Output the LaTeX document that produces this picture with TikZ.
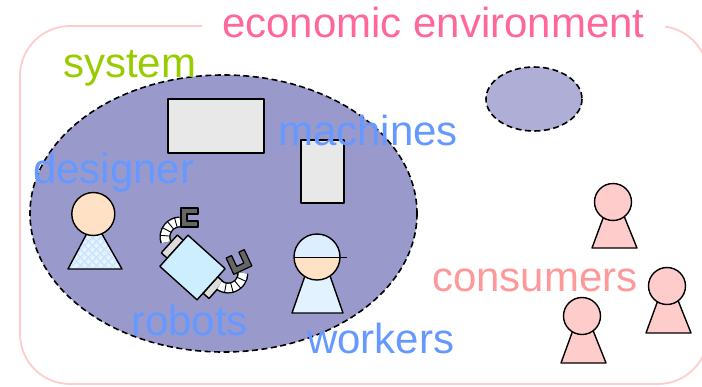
\documentclass[tikz,border=0pt]{standalone}
\usepackage{fontspec}
\setmainfont{Liberation Sans}
\definecolor{framepink}{HTML}{FFCCCC}
\definecolor{econpink}{HTML}{FF6699}
\definecolor{sysgreen}{HTML}{99CC00}
\definecolor{labelblue}{HTML}{6699FF}
\definecolor{conspink}{HTML}{FF9999}
\definecolor{sysfill}{HTML}{9999CC}
\definecolor{otherfill}{HTML}{AEAED6}
\definecolor{machgray}{HTML}{E8E8E8}
\definecolor{robotblue}{HTML}{CCEEFF}
\definecolor{tabgray}{HTML}{DDDDDD}
\definecolor{gripgray}{HTML}{666666}
\definecolor{shirtblue}{HTML}{E2F2FF}
\definecolor{hatchblue}{HTML}{C4E0FA}
\definecolor{capblue}{HTML}{DDEEFF}
\definecolor{skin}{HTML}{FFE2C6}
\definecolor{personpink}{HTML}{FFCCCC}
\begin{document}
\begin{tikzpicture}[x=1pt,y=-1pt,
  label/.style={inner sep=0pt,anchor=base west,font=\fontsize{42}{48}\selectfont},
  outline/.style={draw=black,line width=1.4pt,line join=round},
  dashedoval/.style={draw=black,line width=1.6pt,dash pattern=on 6pt off 3.5pt}]
\useasboundingbox (0,0) rectangle (702,386);

% economic environment frame
\draw[framepink,line width=1.8pt,rounded corners=50pt] (20,26) rectangle (708,384);
\node[label,text=econpink,fill=white,inner xsep=20pt,inner ysep=4pt] (econ) at (202,37) {economic environment};

% system boundary and the outside system
\path[fill=sysfill,dashedoval] (223.5,213.5) ellipse [x radius=193.5,y radius=138.5];
\path[fill=otherfill,dashedoval] (534,99) ellipse [x radius=48,y radius=32];

% machines
\node[outline,fill=machgray,minimum width=96pt,minimum height=54pt,inner sep=0pt] (mach1) at (216,126) {};
\node[outline,fill=machgray,minimum width=43pt,minimum height=63pt,inner sep=0pt] (mach2) at (322.5,171.5) {};

% designer
\begin{scope}
  \path[clip] (94,220) -- (68,269) -- (122,269) -- cycle;
  \fill[shirtblue] (60,200) rectangle (130,275);
  \foreach \k in {-80,-72,...,80}
    \draw[hatchblue,line width=0.8pt] (95+\k,200) -- ++(75,75) (95+\k,275) -- ++(75,-75);
\end{scope}
\draw[outline] (94,220) -- (68,269) -- (122,269) -- cycle;
\node[outline,fill=skin,circle,minimum size=43pt,inner sep=0pt] (deshead) at (93.3,214) {};

% robot body with shoulder tabs
\begin{scope}[shift={(192.5,267.5)},rotate=-42]
  \draw[outline,fill=tabgray] (-33,-14) rectangle (-25,10);
  \draw[outline,fill=tabgray] (25,-10) rectangle (33,12);
  \draw[outline,fill=robotblue] (-25,-21) rectangle (25,21);
\end{scope}
% robot arms
\draw[black,line width=11pt] (180,237) ++(160:15) arc[start angle=160,end angle=270,radius=15];
\draw[white,line width=8.2pt] (180,237) ++(160:15) arc[start angle=160,end angle=270,radius=15];
\foreach \a in {185,208,231,254}
  \draw[black,line width=0.9pt] (180,237) ++(\a:10) -- ++(\a:10);
\draw[black,line width=11pt] (228,273) ++(125:15) arc[start angle=125,end angle=0,radius=15];
\draw[white,line width=8.2pt] (228,273) ++(125:15) arc[start angle=125,end angle=0,radius=15];
\foreach \a in {100,75,50,25}
  \draw[black,line width=0.9pt] (228,273) ++(\a:10) -- ++(\a:10);
% grippers
\draw[outline,fill=gripgray,line width=1.2pt] (198,208) -- (181,208) -- (181,227) -- (198,227) -- (198,221) -- (187,221) -- (187,214) -- (198,214) -- cycle;
\begin{scope}[shift={(239,262)},rotate=25]
  \draw[outline,fill=gripgray,line width=1.2pt] (-10,-9) -- (-10,9) -- (10,9) -- (10,-9) -- (4,-9) -- (4,3) -- (-4,3) -- (-4,-9) -- cycle;
\end{scope}

% worker
\draw[outline,fill=shirtblue] (317.5,240) -- (292,313) -- (343,313) -- cycle;
\fill[skin] (317,257) circle[radius=23];
\fill[capblue] (294,257.5) arc[start angle=180,end angle=360,radius=23] -- cycle;
\draw[black,line width=1.4pt] (294,257.5) -- (347,257.5);
\node[outline,circle,minimum size=46pt,inner sep=0pt] (workhead) at (317,257) {};

% consumers
\foreach \n/\hx/\hy/\by in {c1/613/202/248, c2/667/286/333, c3/582/316/363} {
  \draw[outline,fill=personpink] (\hx+0.5,\hy-12) -- (\hx-21,\by) -- (\hx+24,\by) -- cycle;
  \node[outline,fill=personpink,circle,minimum size=37pt,inner sep=0pt] (\n) at (\hx,\hy) {};
}

% labels
\node[label,text=sysgreen] (system) at (63,77) {system};
\node[label,text=labelblue] (machines) at (278,145) {machines};
\node[label,text=labelblue] (designer) at (33,183) {designer};
\node[label,text=labelblue] (robots) at (131,335) {robots};
\node[label,text=labelblue] (workers) at (307,353) {workers};
\node[label,text=conspink] (consumers) at (432,291) {consumers};
\end{tikzpicture}
\end{document}
